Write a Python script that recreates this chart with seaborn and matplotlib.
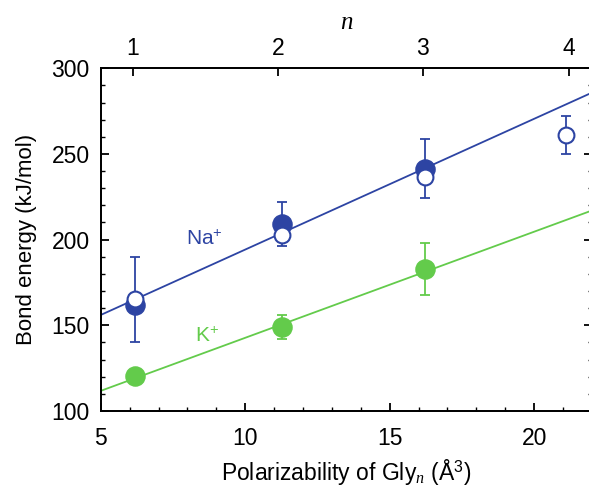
import numpy as np
import pandas as pd
import matplotlib
matplotlib.use("Agg")
import matplotlib.pyplot as plt
from matplotlib.ticker import MultipleLocator
import seaborn as sns

# Polarizability of Gly_n (Å^3) for n = 1..4
n_labels = ["1", "2", "3", "4"]
n_tick_pos = [6.1, 11.15, 16.15, 21.2]
polar = [6.2, 11.27, 16.22, 21.1]

# Na+ bond energies (kJ/mol): two data sets
na_filled = [161.8, 209.0, 241.5]
na_filled_err = [0.0, 13.0, 17.0]
na_open = [165.1, 202.6, 236.6, 260.9]
na_open_err = [25.0, 0.0, 0.0, 11.0]

# K+ bond energies (kJ/mol)
k_vals = [120.6, 148.8, 182.8]
k_err = [0.0, 7.0, 15.0]

# Linear fits, evaluated at the plot edges
fit_x = [5.0, 22.0]
na_fit = [156.0, 285.8]
k_fit = [111.7, 217.0]

blue = "#2D44A3"
green = "#63CB4B"

sns.set_theme(style="ticks")
plt.rcParams["font.family"] = ["Liberation Sans", "DejaVu Sans"]
plt.rcParams["mathtext.fontset"] = "custom"
plt.rcParams["mathtext.rm"] = "Liberation Sans"
plt.rcParams["mathtext.it"] = "Liberation Serif:italic"
for key in ["text.color", "axes.labelcolor", "xtick.color", "ytick.color",
            "axes.edgecolor"]:
    plt.rcParams[key] = "black"

fig = plt.figure(figsize=(5.89, 4.88), dpi=100)
ax = fig.add_axes([0.171, 0.158, 0.834, 0.702])

fits = pd.DataFrame({
    "x": fit_x + fit_x,
    "y": na_fit + k_fit,
    "ion": ["Na"] * 2 + ["K"] * 2,
})
sns.lineplot(data=fits, x="x", y="y", hue="ion", palette={"Na": blue, "K": green},
             legend=False, linewidth=1.3, ax=ax, zorder=2)

# error bars
nf = len(na_filled)
ax.errorbar(polar[:nf], na_filled, yerr=na_filled_err, fmt="none", ecolor=blue,
            elinewidth=1.3, capsize=3.5, capthick=1.3, zorder=3)
ax.errorbar(polar, na_open, yerr=na_open_err, fmt="none", ecolor=blue,
            elinewidth=1.3, capsize=3.5, capthick=1.3, zorder=3)
ax.errorbar(polar[:len(k_vals)], k_vals, yerr=k_err, fmt="none", ecolor=green,
            elinewidth=1.3, capsize=3.5, capthick=1.3, zorder=3)

sns.scatterplot(x=polar[:nf], y=na_filled, color=blue, s=190, edgecolor=blue,
                linewidth=1.0, ax=ax, zorder=4)
sns.scatterplot(x=polar, y=na_open, color="white", s=130, edgecolor=blue,
                linewidth=1.5, ax=ax, zorder=5)
sns.scatterplot(x=polar[:len(k_vals)], y=k_vals, color=green, s=190, edgecolor=green,
                linewidth=1.0, ax=ax, zorder=4)

ax.text(8.6, 200.3, "Na$^{+}$", color=blue, fontsize=15, ha="center", va="center")
ax.text(8.68, 143.7, "K$^{+}$", color=green, fontsize=15, ha="center", va="center")

ax.set_xlim(5, 22)
ax.set_ylim(100, 300)
ax.set_xticks([5, 10, 15, 20])
ax.set_yticks([100, 150, 200, 250, 300])
ax.xaxis.set_minor_locator(MultipleLocator(1))
ax.yaxis.set_minor_locator(MultipleLocator(10))
ax.tick_params(which="both", direction="in", right=True, top=False, width=1.3,
               labelsize=16.5, color="black")
ax.tick_params(which="major", length=6)
ax.tick_params(axis="x", which="major", pad=11.5)
ax.tick_params(axis="y", which="major", pad=8)
ax.tick_params(which="minor", length=3, width=1.0)
for s in ax.spines.values():
    s.set_linewidth(1.3)
    s.set_color("black")
ax.set_xlabel("Polarizability of Gly$_{n}$ (Å$^{3}$)", fontsize=16.5, labelpad=5)
ax.set_ylabel("Bond energy (kJ/mol)", fontsize=16, labelpad=10)

top = ax.twiny()
top.set_xlim(ax.get_xlim())
top.set_xticks(n_tick_pos)
top.set_xticklabels(n_labels)
top.tick_params(direction="in", length=6, width=1.3, labelsize=16.5, pad=6)
top.set_xlabel("$n$", fontsize=18, labelpad=6)

fig.savefig("out.png", dpi=100)
